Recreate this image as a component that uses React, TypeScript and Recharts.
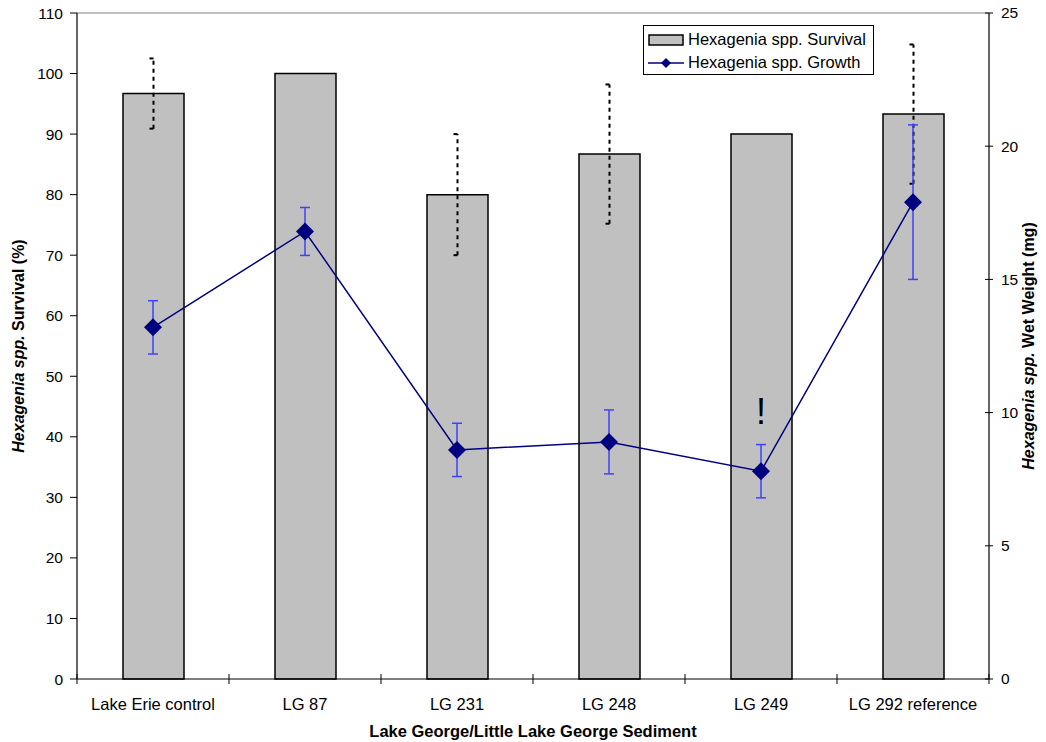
import { ComposedChart, Bar, Line, XAxis, YAxis, ErrorBar, Legend, LabelList, ReferenceLine } from "recharts";

const categories = ["Lake Erie control", "LG 87", "LG 231", "LG 248", "LG 249", "LG 292 reference"];
const survival = [96.7, 100, 80, 86.7, 90, 93.3];
const survivalErr = [5.8, 0, 10, 11.5, 0, 11.5];
const growth = [13.2, 16.8, 8.6, 8.9, 7.8, 17.9];
const growthErr = [1.0, 0.9, 1.0, 1.2, 1.0, 2.9];
const notes = ["", "", "", "", "!", ""];

const leftTicks = [0, 10, 20, 30, 40, 50, 60, 70, 80, 90, 100, 110];
const rightTicks = [0, 5, 10, 15, 20, 25];

const data = categories.map((name, i) => ({
  name,
  survival: survival[i],
  survivalErr: survivalErr[i],
  growth: growth[i],
  growthErr: growthErr[i],
  note: notes[i],
}));

const FONT = "'Liberation Sans', Arial, sans-serif";
const HALF_BAND = 76;

function Diamond(props: any) {
  const { cx, cy } = props;
  if (cx == null || cy == null) return null;
  const r = 9;
  return <path d={`M${cx},${cy - r}L${cx + r},${cy}L${cx},${cy + r}L${cx - r},${cy}Z`} fill="#000080" />;
}

function XTick(props: any) {
  const { x, y, payload, index } = props;
  return (
    <g>
      <line x1={x - HALF_BAND} x2={x - HALF_BAND} y1={y - 24} y2={y - 14} stroke="#000" />
      {index === categories.length - 1 && (
        <line x1={x + HALF_BAND} x2={x + HALF_BAND} y1={y - 24} y2={y - 14} stroke="#000" />
      )}
      <text x={x} y={y} dy="0.7em" textAnchor="middle" fontSize={16.5} fill="#000" fontFamily={FONT}>
        {payload.value}
      </text>
    </g>
  );
}

function RightTick(props: any) {
  const { x, y, payload } = props;
  return (
    <g>
      <line x1={x - 16} x2={x - 8} y1={y} y2={y} stroke="#000" />
      <text x={x} y={y} dy="0.35em" textAnchor="start" fontSize={15.5} fill="#000" fontFamily={FONT}>
        {payload.value}
      </text>
    </g>
  );
}

function YTitle(props: any) {
  const { viewBox, italic, rest, dx } = props;
  const vb = viewBox || { x: 0, y: 13, width: 77, height: 666 };
  const tx = vb.x + dx;
  const ty = vb.y + vb.height / 2;
  return (
    <text
      x={tx}
      y={ty}
      transform={`rotate(-90 ${tx} ${ty})`}
      textAnchor="middle"
      dominantBaseline="central"
      fontWeight="bold"
      fontSize={16}
      fill="#000"
      fontFamily={FONT}
    >
      <tspan fontStyle="italic">{italic}</tspan>
      <tspan>{rest}</tspan>
    </text>
  );
}

function XTitle(props: any) {
  const { viewBox } = props;
  const vb = viewBox || { x: 77, y: 679, width: 912, height: 63 };
  return (
    <text
      x={vb.x + vb.width / 2}
      y={vb.y + 52}
      textAnchor="middle"
      dominantBaseline="central"
      fontWeight="bold"
      fontSize={16.5}
      fill="#000"
      fontFamily={FONT}
    >
      Lake George/Little Lake George Sediment
    </text>
  );
}

function NoteLabel(props: any) {
  const { x, y, value } = props;
  if (!value) return null;
  return (
    <text x={x} y={y - 47} textAnchor="middle" fontSize={36} fill="#000" fontFamily={FONT}>
      {value}
    </text>
  );
}

function LegendBox() {
  return (
    <div
      style={{
        border: "1px solid #000",
        background: "#fff",
        width: 231,
        height: 50,
        boxSizing: "border-box",
        padding: "2px 4px",
        fontFamily: FONT,
        fontSize: 16.5,
        color: "#000",
        whiteSpace: "nowrap",
      }}
    >
      <div style={{ display: "flex", alignItems: "center", height: 23 }}>
        <svg width={36} height={12}>
          <rect x={1} y={1} width={34} height={10} fill="#c0c0c0" stroke="#000" strokeWidth={1.5} />
        </svg>
        <span style={{ marginLeft: 4 }}>Hexagenia spp. Survival</span>
      </div>
      <div style={{ display: "flex", alignItems: "center", height: 23 }}>
        <svg width={36} height={12}>
          <line x1={0} x2={36} y1={6} y2={6} stroke="#000080" strokeWidth={1.5} />
          <path d="M18,1L23,6L18,11L13,6Z" fill="#000080" />
        </svg>
        <span style={{ marginLeft: 4 }}>Hexagenia spp. Growth</span>
      </div>
    </div>
  );
}

export default function App() {
  return (
    <div style={{ position: "absolute", left: 0, top: 0, background: "#fff" }}>
      <ComposedChart
        width={1046}
        height={742}
        data={data}
        margin={{ top: 13, right: 0, bottom: 0, left: 0 }}
        style={{ fontFamily: FONT }}
      >
        <XAxis
          dataKey="name"
          height={63}
          axisLine={{ stroke: "#000", strokeWidth: 1.2 }}
          tickLine={false}
          tickSize={5}
          tickMargin={14}
          tick={<XTick />}
          interval={0}
          label={<XTitle />}
        />
        <YAxis
          yAxisId="left"
          width={77}
          domain={[0, 110]}
          ticks={leftTicks}
          interval={0}
          axisLine={{ stroke: "#000", strokeWidth: 1.2 }}
          tickLine={{ stroke: "#000" }}
          tickSize={7}
          tickMargin={7}
          tick={{ fill: "#000", fontSize: 15.5, fontFamily: FONT }}
          label={<YTitle italic="Hexagenia spp." rest=" Survival (%)" dx={18} />}
        />
        <YAxis
          yAxisId="right"
          orientation="right"
          width={57}
          domain={[0, 25]}
          ticks={rightTicks}
          interval={0}
          axisLine={{ stroke: "#000", strokeWidth: 1.2 }}
          tickLine={false}
          tickSize={4}
          tickMargin={8}
          tick={<RightTick />}
          label={<YTitle italic="Hexagenia spp." rest=" Wet Weight (mg)" dx={39} />}
        />
        <ReferenceLine yAxisId="left" y={110} stroke="#808080" strokeWidth={1.2} />
        <Legend
          layout="vertical"
          align="center"
          verticalAlign="middle"
          wrapperStyle={{ top: 25, left: 643, width: 231 }}
          content={<LegendBox />}
        />
        <Bar
          yAxisId="left"
          dataKey="survival"
          barSize={61}
          fill="#c0c0c0"
          stroke="#000"
          strokeWidth={1.5}
          isAnimationActive={false}
        >
          <ErrorBar dataKey="survivalErr" width={4} stroke="#000" strokeWidth={2} strokeDasharray="4 4" />
        </Bar>
        <Line
          yAxisId="right"
          dataKey="growth"
          type="linear"
          stroke="#000080"
          strokeWidth={1.5}
          dot={<Diamond />}
          activeDot={false}
          isAnimationActive={false}
        >
          <ErrorBar dataKey="growthErr" width={5} stroke="#4040ff" strokeWidth={1.5} />
          <LabelList dataKey="note" content={<NoteLabel />} />
        </Line>
      </ComposedChart>
    </div>
  );
}
